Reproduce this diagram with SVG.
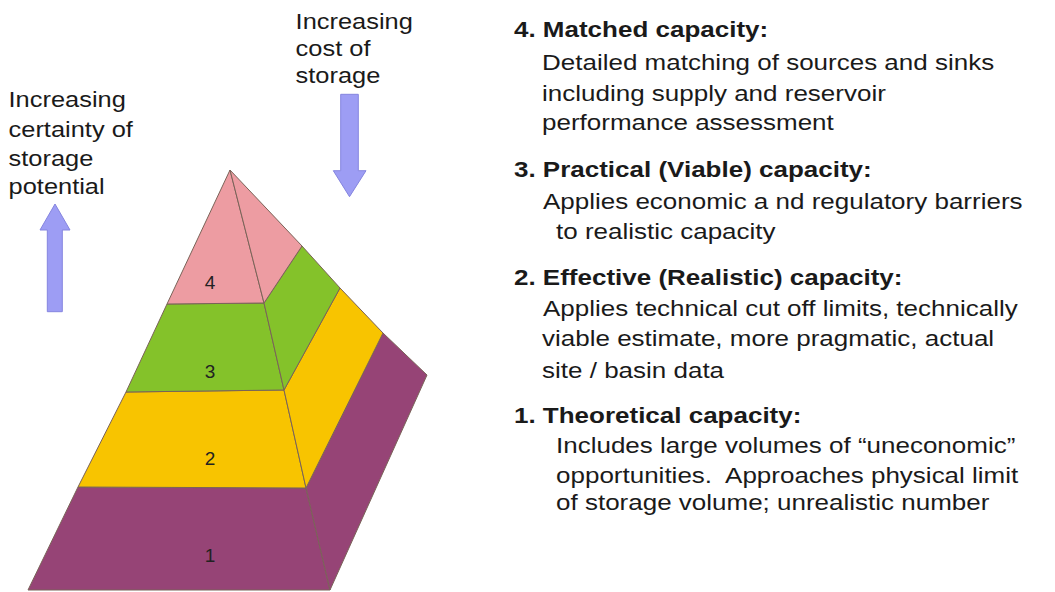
<svg xmlns="http://www.w3.org/2000/svg" width="1055" height="592" viewBox="0 0 1055 592">
<style>
.t{font-family:"Liberation Sans",Arial,sans-serif;fill:#1a1a1a}
.b{font-size:22.5px}
.h{font-size:22.5px;font-weight:bold}
.s{font-size:22px}
.n{font-family:"Liberation Sans",Arial,sans-serif;font-size:19px;fill:#222;text-anchor:middle}
.e{stroke:#7a6358;stroke-width:1;stroke-linejoin:round}
.pk{fill:#ED9CA2}.gr{fill:#84C22A}.ye{fill:#F8C400}.pu{fill:#964476}
.arr{fill:#9D9DF4;stroke:#8585DF;stroke-width:1}
</style>
<rect width="1055" height="592" fill="#fff"/>
<g id="pyramid">
<g id="level1">
<polygon class="pu e" points="78,487 306,488 330,590 28,590"/>
<polygon class="pu e" points="306,488 383,333 427,375 330,590"/>
<text class="n" x="210" y="562">1</text>
</g>
<g id="level2">
<polygon class="ye e" points="126,392 284,390 306,488 78,487"/>
<polygon class="ye e" points="284,390 340,288 383,333 306,488"/>
<text class="n" x="210" y="465">2</text>
</g>
<g id="level3">
<polygon class="gr e" points="167,304 264,303 284,390 126,392"/>
<polygon class="gr e" points="264,303 302,246 340,288 284,390"/>
<text class="n" x="210" y="378">3</text>
</g>
<g id="level4">
<polygon class="pk e" points="230,170 264,303 167,304"/>
<polygon class="pk e" points="230,170 302,246 264,303"/>
<text class="n" x="210" y="289">4</text>
</g>
</g>
<g id="connectors">
<polygon class="arr" points="55,204 70,230 62.3,230 62.3,311.7 47.3,311.7 47.3,230 40,230"/>
<polygon class="arr" points="340.7,94.3 358.3,94.3 358.3,170.7 366,170.7 349.5,196.7 333.3,170.7 340.7,170.7"/>
</g>
<g id="label-certainty" class="t s" transform="scale(1.156,1)">
<text x="7.4" y="107">Increasing</text>
<text x="7.4" y="137">certainty of</text>
<text x="7.4" y="166">storage</text>
<text x="7.4" y="194">potential</text>
</g>
<g id="label-cost" class="t s" transform="scale(1.156,1)">
<text x="255.7" y="29">Increasing</text>
<text x="255.7" y="56">cost of</text>
<text x="255.7" y="83">storage</text>
</g>
<g id="desc4" class="t" transform="scale(1.156,1)">
<text class="h" x="444.6" y="37">4. Matched capacity:</text>
<text class="b" x="468.9" y="70">Detailed matching of sources and sinks</text>
<text class="b" x="468.9" y="101">including supply and reservoir</text>
<text class="b" x="468.9" y="130">performance assessment</text>
</g>
<g id="desc3" class="t" transform="scale(1.156,1)">
<text class="h" x="444.6" y="177">3. Practical (Viable) capacity:</text>
<text class="b" x="469.7" y="209">Applies economic a nd regulatory barriers</text>
<text class="b" x="481" y="239">to realistic capacity</text>
</g>
<g id="desc2" class="t" transform="scale(1.156,1)">
<text class="h" x="444.6" y="285">2. Effective (Realistic) capacity:</text>
<text class="b" x="469.7" y="316">Applies technical cut off limits, technically</text>
<text class="b" x="468.9" y="346">viable estimate, more pragmatic, actual</text>
<text class="b" x="468.9" y="378">site / basin data</text>
</g>
<g id="desc1" class="t" transform="scale(1.156,1)">
<text class="h" x="444.6" y="423">1. Theoretical capacity:</text>
<text class="b" x="481" y="453">Includes large volumes of “uneconomic”</text>
<text class="b" x="481" y="483">opportunities.&#160; Approaches physical limit</text>
<text class="b" x="481" y="510">of storage volume; unrealistic number</text>
</g>
</svg>
